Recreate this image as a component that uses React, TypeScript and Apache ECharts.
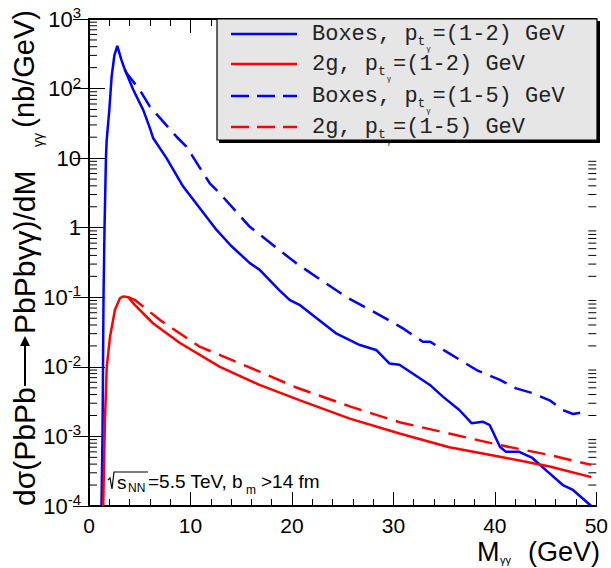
import React, { useEffect, useRef } from "react";
import * as echarts from "echarts";

// Boxes, pt = (1-2) GeV  (solid blue)
const boxes12X = [1.23, 1.33, 1.38, 1.43, 1.53, 1.67, 1.74, 2.0, 2.23, 2.5, 2.79, 3.2, 3.54, 4.36, 5.35, 6.0, 6.33, 7.64, 9.28, 12.57, 14.0, 15.85, 16.8, 18.8, 19.8, 20.8, 24.4, 26.7, 28.3, 29.6, 30.6, 33.6, 34.9, 36.5, 37.7, 38.8, 39.5, 40.5, 41.1, 42.4, 43.7, 45.0, 46.7, 47.7, 49.5];
const boxes12Y = [1e-4, 1e-3, 1e-2, 0.1, 1, 10, 18, 49, 148, 300, 410, 257, 186, 96, 49, 27, 19.3, 10, 3.9, 0.93, 0.55, 0.31, 0.25, 0.125, 0.091, 0.077, 0.03, 0.0206, 0.0175, 0.0112, 0.0107, 0.0055, 0.0037, 0.0024, 0.00155, 0.00163, 0.00145, 0.00071, 0.0006, 0.0006, 0.00049, 0.00033, 0.0002, 0.00017, 0.0001];

// 2g, pt = (1-2) GeV (solid red)
const g12X = [1.4, 1.57, 1.75, 2.07, 2.56, 3.05, 3.4, 3.87, 4.36, 6.33, 8.96, 12.9, 16.8, 20.8, 25.7, 30.6, 35.5, 40.5, 45.4, 49.5];
const g12Y = [1e-4, 0.0017, 0.01, 0.027, 0.066, 0.097, 0.103, 0.1, 0.082, 0.042, 0.022, 0.01, 0.0055, 0.0033, 0.0018, 0.0011, 0.0007, 0.00051, 0.00037, 0.00026];

// Boxes, pt = (1-5) GeV (dashed blue)
const boxes15X = [3.54, 3.71, 5.02, 6.0, 8.63, 9.6, 11.9, 12.9, 15.85, 20.4, 25.4, 28.6, 30.9, 32.9, 33.6, 35.5, 38.2, 40.5, 42.1, 43.7, 45.4, 46.7, 47.7, 48.5];
const boxes15Y = [186, 166, 95, 55, 20.3, 14.6, 4.35, 3.1, 1.03, 0.31, 0.1, 0.056, 0.036, 0.023, 0.023, 0.0156, 0.009, 0.0065, 0.0049, 0.0042, 0.0033, 0.0024, 0.0021, 0.0022];

// 2g, pt = (1-5) GeV (dashed red)
const g15X = [3.87, 4.5, 7.0, 10.9, 14.9, 20.5, 25.7, 30.6, 35.5, 40.5, 45.4, 49.5];
const g15Y = [0.1, 0.092, 0.047, 0.0195, 0.0112, 0.005, 0.0027, 0.0016, 0.0011, 0.00075, 0.00054, 0.00039];

const xMin = 0;
const xMax = 50;
const yMin = 1e-4;
const yMax = 1e3;

const SANS = "'Liberation Sans', Arial, sans-serif";
const MONO = "'Liberation Mono', 'Courier New', monospace";

const zip = (xs: number[], ys: number[]) => xs.map((x, i) => [x, ys[i]]);

function minorLogValues(): number[][] {
  const out: number[][] = [];
  for (let e = -4; e < 3; e++) {
    for (let m = 2; m <= 9; m++) out.push([0, m * Math.pow(10, e)]);
  }
  return out;
}

function legendEntry(y: number, color: string, dashed: boolean, lead: string, tail: string): any[] {
  const cw = 13.2;
  const subX = 312 + lead.length * cw;
  const z = 110;
  return [
    {
      type: "line",
      z,
      shape: { x1: 231, y1: y, x2: 297, y2: y },
      style: { stroke: color, lineWidth: 2.5, lineDash: dashed ? [18, 8] : null },
    },
    { type: "text", z, x: 312, y, style: { text: lead, fontSize: 22, fontFamily: MONO, fill: "#222", align: "left", verticalAlign: "middle" } },
    { type: "text", z, x: subX, y: y + 7, style: { text: "t", fontSize: 13, fontFamily: MONO, fill: "#222", align: "left", verticalAlign: "middle" } },
    { type: "text", z, x: subX + 9, y: y + 14, style: { text: "γ", fontSize: 8, fontFamily: SANS, fill: "#222", align: "left", verticalAlign: "middle" } },
    { type: "text", z, x: subX + 15, y, style: { text: tail, fontSize: 22, fontFamily: MONO, fill: "#222", align: "left", verticalAlign: "middle" } },
  ];
}

export default function App() {
  const ref = useRef<HTMLDivElement>(null);
  useEffect(() => {
    const chart = echarts.init(ref.current!, null, { renderer: "svg" });
    const axisLine = { show: true, lineStyle: { color: "#000", width: 2 } };
    const xCommon = {
      type: "value",
      min: xMin,
      max: xMax,
      interval: 10,
      axisLine,
      axisTick: { show: true, inside: true, length: 14, lineStyle: { color: "#000", width: 1 } },
      minorTick: { show: true, splitNumber: 5, length: 7, lineStyle: { color: "#000", width: 1 } },
      splitLine: { show: false },
      minorSplitLine: { show: false },
    };
    const yCommon = {
      type: "log",
      logBase: 10,
      min: yMin,
      max: yMax,
      axisLine,
      axisTick: { show: true, inside: true, length: 16, lineStyle: { color: "#000", width: 1 } },
      splitLine: { show: false },
    };
    const titleFs = 30;
    const option: any = {
      animation: false,
      grid: { left: 89, top: 19, right: 14, bottom: 62, containLabel: false },
      xAxis: [
        {
          ...xCommon,
          position: "bottom",
          axisLabel: { show: true, fontSize: 21, fontFamily: SANS, color: "#000", margin: 9 },
        },
        { ...xCommon, position: "top", axisLabel: { show: false } },
      ],
      yAxis: [
        {
          ...yCommon,
          position: "left",
          axisLabel: {
            show: true,
            margin: 8,
            formatter: (v: number) => {
              const e = Math.round(Math.log10(v));
              if (e === 0) return "{b|1}";
              if (e === 1) return "{b|10}";
              return "{b|10}{s|" + e + "}";
            },
            rich: {
              b: { fontSize: 22, fontFamily: SANS, color: "#000", lineHeight: 28 },
              s: { fontSize: 15, fontFamily: SANS, color: "#000", verticalAlign: "top", lineHeight: 15 },
            },
          },
        },
        { ...yCommon, position: "right", axisLabel: { show: false } },
      ],
      series: [
        {
          type: "custom",
          xAxisIndex: 0,
          yAxisIndex: 0,
          silent: true,
          clip: false,
          data: minorLogValues(),
          renderItem: (_p: any, api: any) => {
            const v = api.value(1);
            const a = api.coord([xMin, v]);
            const b = api.coord([xMax, v]);
            return {
              type: "group",
              children: [
                { type: "line", shape: { x1: a[0], y1: a[1], x2: a[0] + 8, y2: a[1] }, style: { stroke: "#000", lineWidth: 1 } },
                { type: "line", shape: { x1: b[0], y1: b[1], x2: b[0] - 8, y2: b[1] }, style: { stroke: "#000", lineWidth: 1 } },
              ],
            };
          },
        },
        {
          type: "line",
          data: zip(boxes15X, boxes15Y),
          showSymbol: false,
          lineStyle: { color: "#0000ff", width: 2.5, type: [18, 9] },
        },
        {
          type: "line",
          data: zip(boxes12X, boxes12Y),
          showSymbol: false,
          lineStyle: { color: "#0000ff", width: 2.5 },
        },
        {
          type: "line",
          data: zip(g15X, g15Y),
          showSymbol: false,
          lineStyle: { color: "#ff0000", width: 2.5, type: [18, 9] },
        },
        {
          type: "line",
          data: zip(g12X, g12Y),
          showSymbol: false,
          lineStyle: { color: "#ff0000", width: 2.5 },
        },
      ],
      graphic: [
        // legend box
        { type: "rect", z: 100, shape: { x: 219, y: 21, width: 381, height: 122 }, style: { fill: "#000" } },
        { type: "rect", z: 101, shape: { x: 217, y: 19, width: 380, height: 121 }, style: { fill: "#e6e6e6", stroke: "#000", lineWidth: 1.2 } },
        ...legendEntry(34, "#0000ff", false, "Boxes, p", "=(1-2) GeV"),
        ...legendEntry(64, "#ff0000", false, "2g, p", "=(1-2) GeV"),
        ...legendEntry(96, "#0000ff", true, "Boxes, p", "=(1-5) GeV"),
        ...legendEntry(127, "#ff0000", true, "2g, p", "=(1-5) GeV"),
        // y title
        { type: "text", x: 24, y: 506, rotation: Math.PI / 2, style: { text: "dσ(PbPb", fontSize: titleFs, fontFamily: SANS, fill: "#000", align: "left", verticalAlign: "middle" } },
        { type: "line", shape: { x1: 25, y1: 386, x2: 25, y2: 342 }, style: { stroke: "#000", lineWidth: 2 } },
        { type: "polygon", shape: { points: [[25, 336], [20, 346], [30, 346]] }, style: { fill: "#000" } },
        { type: "text", x: 24, y: 334, rotation: Math.PI / 2, style: { text: "PbPbγγ)/dM", fontSize: titleFs, fontFamily: SANS, fill: "#000", align: "left", verticalAlign: "middle" } },
        { type: "text", x: 38, y: 147, rotation: Math.PI / 2, style: { text: "γγ", fontSize: 14, fontFamily: SANS, fill: "#000", align: "left", verticalAlign: "middle" } },
        { type: "text", x: 24, y: 10, rotation: Math.PI / 2, style: { text: "(nb/GeV)", fontSize: 29, fontFamily: SANS, fill: "#000", align: "right", verticalAlign: "middle" } },
        // x title
        { type: "text", x: 477, y: 552, style: { text: "M", fontSize: 27, fontFamily: SANS, fill: "#000", align: "left", verticalAlign: "middle" } },
        { type: "text", x: 500, y: 560, style: { text: "γγ", fontSize: 11, fontFamily: SANS, fill: "#000", align: "left", verticalAlign: "middle" } },
        { type: "text", x: 528, y: 552, style: { text: "(GeV)", fontSize: 27, fontFamily: SANS, fill: "#000", align: "left", verticalAlign: "middle" } },
        // annotation
        { type: "polyline", shape: { points: [[108, 480], [110, 478], [112, 489], [114, 472], [148, 472]] }, style: { stroke: "#000", lineWidth: 1.2, fill: null } },
        { type: "text", x: 117, y: 482, style: { text: "s", fontSize: 19, fontFamily: SANS, fill: "#000", align: "left", verticalAlign: "middle" } },
        { type: "text", x: 128, y: 488, style: { text: "NN", fontSize: 12, fontFamily: SANS, fill: "#000", align: "left", verticalAlign: "middle" } },
        { type: "text", x: 148, y: 481, style: { text: "=5.5 TeV, b", fontSize: 19, fontFamily: SANS, fill: "#000", align: "left", verticalAlign: "middle" } },
        { type: "text", x: 246, y: 490, style: { text: "m", fontSize: 12, fontFamily: SANS, fill: "#000", align: "left", verticalAlign: "middle" } },
        { type: "text", x: 261, y: 481, style: { text: ">14 fm", fontSize: 19, fontFamily: SANS, fill: "#000", align: "left", verticalAlign: "middle" } },
      ],
    };
    chart.setOption(option);
    return () => chart.dispose();
  }, []);
  return <div ref={ref} style={{ position: "fixed", left: 0, top: 0, width: 611, height: 568, background: "#fff" }} />;
}
